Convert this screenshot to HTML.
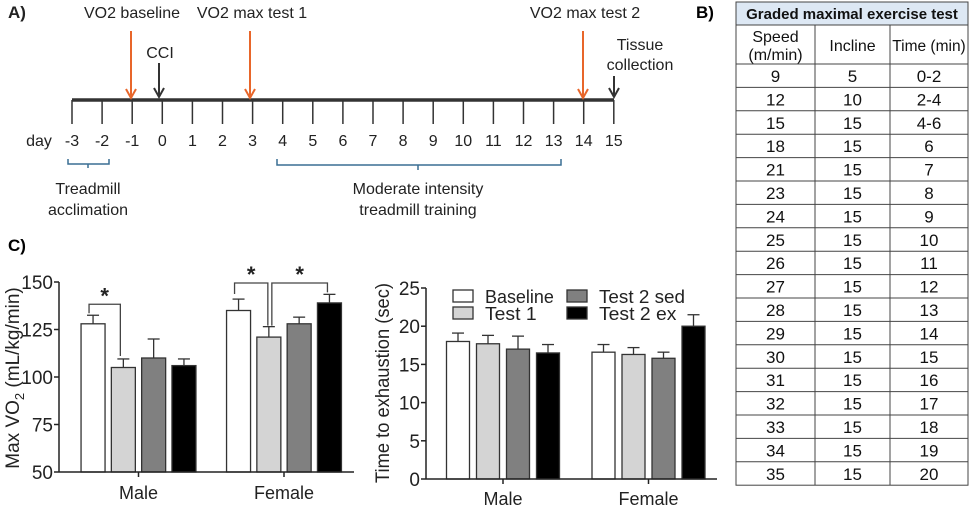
<!DOCTYPE html>
<html><head><meta charset="utf-8"><style>
html,body{margin:0;padding:0;background:#fff;width:969px;height:506px;overflow:hidden}
svg{display:block;font-family:"Liberation Sans",sans-serif}
</style></head><body>
<svg id="fig" width="969" height="506" viewBox="0 0 969 506">
<!-- Panel A -->
<g id="panelA" font-size="16" fill="#222">
<text x="8" y="18" font-weight="bold" font-size="17">A)</text>
<text x="132" y="18" text-anchor="middle">VO2 baseline</text>
<text x="252" y="18" text-anchor="middle">VO2 max test 1</text>
<text x="585" y="18" text-anchor="middle">VO2 max test 2</text>
<text x="160" y="58" text-anchor="middle">CCI</text>
<text x="640" y="50" text-anchor="middle">Tissue</text>
<text x="640" y="70" text-anchor="middle">collection</text>
<line x1="72" y1="100" x2="614" y2="100" stroke="#333" stroke-width="3.5"/>
<text x="39" y="146" text-anchor="middle">day</text>
<g id="ticks"></g>
<g stroke="#e8662a" stroke-width="2" fill="none"><line x1="131" y1="31" x2="131" y2="98"/><path d="M126,89 L131,98 L136,89"/></g>
<g stroke="#e8662a" stroke-width="2" fill="none"><line x1="250" y1="31" x2="250" y2="98"/><path d="M245,89 L250,98 L255,89"/></g>
<g stroke="#e8662a" stroke-width="2" fill="none"><line x1="583" y1="31" x2="583" y2="98"/><path d="M578,89 L583,98 L588,89"/></g>
<g stroke="#333" stroke-width="2" fill="none"><line x1="159" y1="63" x2="159" y2="97"/><path d="M154,88 L159,97 L164,88"/></g>
<g stroke="#333" stroke-width="2" fill="none"><line x1="614" y1="76" x2="614" y2="97"/><path d="M609,88 L614,97 L619,88"/></g>
<path d="M68,159 V164 H88 V168 M88,164 H109 V159" fill="none" stroke="#3a6f94" stroke-width="1.5"/>
<path d="M277,159 V165 H418 V170 M418,165 H561 V159" fill="none" stroke="#3a6f94" stroke-width="1.5"/>
<text x="88" y="194" text-anchor="middle">Treadmill</text>
<text x="88" y="215" text-anchor="middle">acclimation</text>
<text x="418" y="194" text-anchor="middle">Moderate intensity</text>
<text x="418" y="215" text-anchor="middle">treadmill training</text>
</g>
<!-- Panel B -->
<text x="696" y="18" font-weight="bold" font-size="17">B)</text>
<g id="table" font-size="16" fill="#111"></g>
<!-- Panel C -->
<text x="8" y="251" font-weight="bold" font-size="17">C)</text>
<g id="chart1"></g>
<g id="chart2"></g>
</svg>
<script>
const NS="http://www.w3.org/2000/svg";
function mk(parent,tag,attrs,text){const e=document.createElementNS(NS,tag);for(const k in attrs)e.setAttribute(k,attrs[k]);if(text!==undefined)e.textContent=text;parent.appendChild(e);return e;}

// timeline days
const days=[-3,-2,-1,0,1,2,3,4,5,6,7,8,9,10,11,12,13,14,15];
const tg=document.getElementById('ticks');
days.forEach(function(d,i){
  const x=72+i*30.1;
  const t=mk(tg,'line',{x1:x,y1:100,x2:x,y2:124,stroke:'#333','stroke-width':1.5});
  
  
  const l=mk(tg,'text',{x:x,y:146,'text-anchor':'middle'},String(d));
  
  
});

// table
const speeds=[9,12,15,18,21,23,24,25,26,27,28,29,30,31,32,33,34,35];
const inclines=[5,10,15,15,15,15,15,15,15,15,15,15,15,15,15,15,15,15];
const times=["0-2","2-4","4-6","6","7","8","9","10","11","12","13","14","15","16","17","18","19","20"];
const tb=document.getElementById('table');
const TX=[736,815,890,968], rowH=23.4, y0=64;
let r=mk(tb,'rect',{x:736,y:2,width:232,height:23,fill:'#dde8f4',stroke:'#444','stroke-width':1});


let tt=mk(tb,'text',{x:852,y:19,'text-anchor':'middle','font-weight':'bold','font-size':15},'Graded maximal exercise test');


r=mk(tb,'rect',{x:736,y:25,width:232,height:39+rowH*18,fill:'none',stroke:'#444','stroke-width':1});


[815,890].forEach(function(x){const l=mk(tb,'line',{x1:x,y1:25,x2:x,y2:y0+rowH*18,stroke:'#444','stroke-width':1});});
const hd=[["Speed","(m/min)"],["Incline"],["Time (min)"]];
hd.forEach(function(h,c){const cx=(TX[c]+TX[c+1])/2;
  if(h.length===2){let a=mk(tb,'text',{x:cx,y:42,'text-anchor':'middle'},h[0]);a=mk(tb,'text',{x:cx,y:60,'text-anchor':'middle'},h[1]);}
  else{const a=mk(tb,'text',{x:cx,y:51,'text-anchor':'middle','font-size':h[0].length>8?15.5:16},h[0]);}
});
speeds.forEach(function(s,i){
  const y=y0+i*rowH;
  const l=mk(tb,'line',{x1:736,y1:y,x2:968,y2:y,stroke:'#444','stroke-width':1});
  
  
  [s,inclines[i],times[i]].forEach(function(v,c){
    const t=mk(tb,'text',{x:(TX[c]+TX[c+1])/2,y:y+18,'text-anchor':'middle','font-size':17},String(v));
    
    
  });
});

// chart data
const groups=["Male","Female"];
const seriesNames=["Baseline","Test 1","Test 2 sed","Test 2 ex"];
const fills=["#ffffff","#d4d4d4","#808080","#000000"];
const vo2Male=[128,105,110,106];
const vo2Female=[135,121,128,139];
const vo2ErrMale=[4.5,4.5,10,3.5];
const vo2ErrFemale=[6,5.5,3.5,4.5];
const vo2Ticks=[50,75,100,125,150];
const tteMale=[18,17.7,17,16.5];
const tteFemale=[16.6,16.3,15.8,20];
const tteErrMale=[1.1,1.1,1.7,1.1];
const tteErrFemale=[1,0.9,0.8,1.5];
const tteTicks=[0,5,10,15,20,25];

function drawChart(g,cfg){
  const y=function(v){return cfg.y0-(v-cfg.vmin)/(cfg.vmax-cfg.vmin)*(cfg.y0-cfg.y1);};
  const gx=function(gi,si){return cfg.centers[gi]+(si-1.5)*cfg.step;};
  [cfg.vals[0],cfg.vals[1]].forEach(function(arr,gi){
    arr.forEach(function(v,si){
      const cx=gx(gi,si), top=y(v), et=y(v+cfg.errs[gi][si]);
      const e=mk(g,'line',{x1:cx,y1:top,x2:cx,y2:et,stroke:'#333','stroke-width':1.3});
      
      
      const c=mk(g,'line',{x1:cx-6,y1:et,x2:cx+6,y2:et,stroke:'#333','stroke-width':1.3});
      
      
      const b=mk(g,'rect',{x:cx-cfg.bw/2,y:top,width:cfg.bw,height:cfg.y0-top,fill:fills[si],stroke:'#333','stroke-width':1.3});
      
      
    });
  });
  let a=mk(g,'line',{x1:cfg.ax,y1:cfg.y1,x2:cfg.ax,y2:cfg.y0,stroke:'#222','stroke-width':1.5});
  
  
  a=mk(g,'line',{x1:cfg.ax,y1:cfg.y0,x2:cfg.axEnd,y2:cfg.y0,stroke:'#222','stroke-width':1.5});
  
  
  cfg.ticks.forEach(function(t){
    const ty=y(t);
    const l=mk(g,'line',{x1:cfg.ax-5,y1:ty,x2:cfg.ax,y2:ty,stroke:'#222','stroke-width':1.5});
    
    
    const tx=mk(g,'text',{x:cfg.ax-6,y:ty+7,'text-anchor':'end','font-size':19,fill:'#222'},String(t));
    
    
  });
  groups.forEach(function(name,gi){
    const cx=cfg.centers[gi];
    const l=mk(g,'line',{x1:cx,y1:cfg.y0,x2:cx,y2:cfg.y0+5,stroke:'#222','stroke-width':1.5});
    
    
    const t=mk(g,'text',{x:cx,y:cfg.labelY,'text-anchor':'middle','font-size':18,fill:'#222'},name);
    
    
  });
  const yl=mk(g,'text',{transform:'translate('+cfg.ylx+','+cfg.yly+') rotate(-90)','text-anchor':'middle','font-size':19,fill:'#222'});
  
  
  cfg.ytitle(yl);
  return {y:y,gx:gx};
}
const g1=document.getElementById('chart1');
const c1=drawChart(g1,{y0:472,y1:282,vmin:50,vmax:150,ax:59,axEnd:354,centers:[138.5,284],step:30.3,bw:24,
  vals:[vo2Male,vo2Female],errs:[vo2ErrMale,vo2ErrFemale],ticks:vo2Ticks,labelY:499,ylx:19,yly:378,
  ytitle:function(t){t.appendChild(document.createTextNode('Max VO'));mk(t,'tspan',{'font-size':13,dy:5},'2');mk(t,'tspan',{dy:-5},' (mL/kg/min)');}});
function bracket(g,pts,name){const p=mk(g,'polyline',{points:pts,fill:'none',stroke:'#444','stroke-width':1.3});}
function star(g,x,yv,name){const s=mk(g,'text',{x:x,y:yv,'text-anchor':'middle','font-size':22,'font-weight':'bold',fill:'#222'},'*');}
(function(){
  const y=c1.y,gx=c1.gx;
  const m0=gx(0,0)-4,m1=gx(0,1)-3;
  bracket(g1,m0+','+(y(vo2Male[0]+vo2ErrMale[0])-2)+' '+m0+','+(y(vo2Male[0]+vo2ErrMale[0])-11)+' '+m1+','+(y(vo2Male[0]+vo2ErrMale[0])-11)+' '+m1+','+(y(vo2Male[1]+vo2ErrMale[1])-3),'male-sig-bracket');
  star(g1,(m0+m1)/2,y(vo2Male[0]+vo2ErrMale[0])-12,'male-sig-star');
  const top=283;
  const f0=gx(1,0)-4,f1=gx(1,1)-1,f2=gx(1,1)+3,f3=gx(1,3)-2;
  bracket(g1,f0+',294 '+f0+','+top+' '+f1+','+top+' '+f1+','+(y(vo2Female[1]+vo2ErrFemale[1])-1),'female-sig-bracket-1');
  bracket(g1,f2+','+(y(vo2Female[1]+vo2ErrFemale[1])-1)+' '+f2+','+top+' '+f3+','+top+' '+f3+','+(y(vo2Female[3]+vo2ErrFemale[3])-2),'female-sig-bracket-2');
  star(g1,(f0+f1)/2,282,'female-sig-star-1');
  star(g1,(f2+f3)/2,282,'female-sig-star-2');
})();
const g2=document.getElementById('chart2');
drawChart(g2,{y0:479,y1:288,vmin:0,vmax:25,ax:426,axEnd:717,centers:[503,648.5],step:30,bw:23,
  vals:[tteMale,tteFemale],errs:[tteErrMale,tteErrFemale],ticks:tteTicks,labelY:505,ylx:395,yly:383,
  ytitle:function(t){t.textContent='Time to exhaustion  (sec)';t.setAttribute('textLength','200');t.setAttribute('lengthAdjust','spacingAndGlyphs');t.setAttribute('transform','translate(389,383) rotate(-90)');}});
const legX=[453,453,567,567],legY=[296,313,296,313];
seriesNames.forEach(function(n,i){
  const r=mk(g2,'rect',{x:legX[i],y:legY[i]-6,width:20,height:12,fill:fills[i],stroke:'#333','stroke-width':1.3});
  
  
  const t=mk(g2,'text',{x:legX[i]+32,y:legY[i]+7,'font-size':18,fill:'#222',textLength:n.length*8.6,lengthAdjust:'spacingAndGlyphs'},n);
  
  
});
</script>
</body></html>
